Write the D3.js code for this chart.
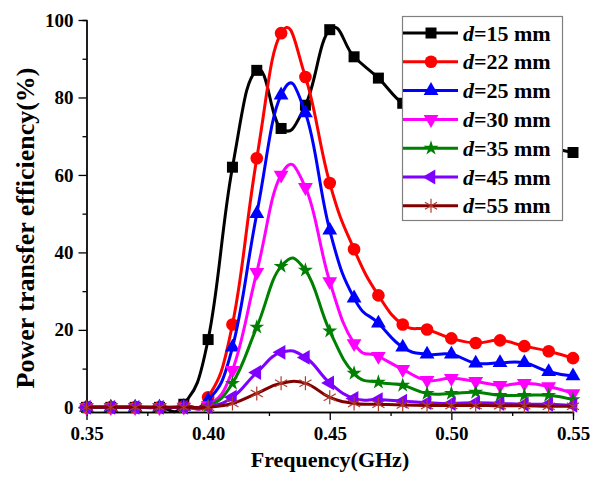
<!DOCTYPE html>
<html>
<head>
<meta charset="utf-8">
<script src="https://cdn.jsdelivr.net/npm/d3@7"></script>
<style>
    body { margin: 0; background: #fff; }
    svg text { font-family: "Liberation Serif", "Times New Roman", serif; font-weight: bold; }
</style>
</head>
<body>
<svg id="chart" width="603" height="481"></svg>
<script>
// frequency points (GHz)
var freq = [0.35, 0.36, 0.37, 0.38, 0.39, 0.40, 0.41, 0.42, 0.43, 0.44, 0.45,
            0.46, 0.47, 0.48, 0.49, 0.50, 0.51, 0.52, 0.53, 0.54, 0.55];

// power transfer efficiency (%) per distance
var d15 = [0, 0, 0, 0, 0.8, 17.5, 62, 87, 72, 78, 97.5, 90.5, 85, 78.5, 76, 74, 72, 70, 68, 67, 65.8];
var d22 = [0, 0, 0, 0, 0.3, 2.6, 21.4, 64.3, 96.6, 85.3, 57.9, 40.8, 28.9, 21.4, 20.1, 17.8, 16.6, 17.3, 15.8, 14.5, 12.7];
var d25 = [0, 0, 0, 0, 0.2, 1.8, 15.5, 50, 80.6, 76, 45.7, 28.2, 21.7, 15.5, 13.7, 13.7, 11.4, 11.5, 11.5, 9.2, 8.1];
var d30 = [0, 0, 0, 0, 0.1, 0.5, 9.6, 34.9, 60, 56.8, 32.5, 16.5, 13.2, 9.8, 7, 7.5, 6.7, 5.7, 6.2, 5.4, 3.6];
var d35 = [0, 0, 0, 0, 0, 0.3, 6.2, 20.7, 36.4, 35.4, 19.7, 8.8, 6.5, 5.7, 3.6, 3.6, 3.9, 3.1, 3.1, 3.1, 2];
var d45 = [0, 0, 0, 0, 0, 0.2, 2.6, 9, 14.2, 12.9, 6.3, 2.3, 2, 1.6, 1.2, 1, 1.2, 1, 0.8, 0.8, 0.5];
var d55 = [0, 0, 0, 0, 0, 0, 1, 3.6, 6.2, 6.2, 2.6, 1, 0.8, 0.6, 0.5, 0.5, 0.5, 0.4, 0.4, 0.3, 0.3];

var seriesNames = ["15", "22", "25", "30", "35", "45", "55"];
var seriesValues = [d15, d22, d25, d30, d35, d45, d55];

var xTicks = [0.35, 0.40, 0.45, 0.50, 0.55];
var xMinor = [0.375, 0.425, 0.475, 0.525];
var yTicks = [0, 20, 40, 60, 80, 100];
var yMinor = [10, 30, 50, 70, 90];

var colors = ["#000000", "#ff0000", "#0000ff", "#ff00ff", "#008000", "#8000ff", "#800000"];

var svg = d3.select("#chart");

var x = d3.scaleLinear().domain([0.35, 0.55]).range([86.5, 573]);
var y = d3.scaleLinear().domain([-1.2, 100]).range([412, 20]);

// axes
function styleAxis(g) {
    g.selectAll("path.domain").attr("stroke", "#000").attr("stroke-width", 1.3);
    g.selectAll(".tick line").attr("stroke", "#000").attr("stroke-width", 1.3);
    g.selectAll(".tick text").attr("font-size", 19).attr("fill", "#000")
        .style("font-family", "'Liberation Serif', 'Times New Roman', serif").style("font-weight", "bold");
}

svg.append("g")
    .attr("transform", "translate(0,412)")
    .call(d3.axisBottom(x).tickValues(xMinor).tickSize(4).tickFormat(""))
    .call(styleAxis);
svg.append("g")
    .attr("transform", "translate(0,412)")
    .call(d3.axisBottom(x).tickValues(xTicks).tickSize(8).tickSizeOuter(0).tickPadding(7).tickFormat(d3.format(".2f")))
    .call(styleAxis);

svg.append("g")
    .attr("transform", "translate(86.5,0)")
    .call(d3.axisLeft(y).tickValues(yMinor).tickSize(4).tickFormat(""))
    .call(styleAxis);
svg.append("g")
    .attr("transform", "translate(86.5,0)")
    .call(d3.axisLeft(y).tickValues(yTicks).tickSize(8).tickSizeOuter(0).tickPadding(5))
    .call(styleAxis);

// axis titles
svg.append("text")
    .attr("x", 330).attr("y", 467)
    .attr("text-anchor", "middle")
    .attr("font-size", 22)
    .text("Frequency(GHz)");

svg.append("text")
    .attr("transform", "translate(34,228) rotate(-90)")
    .attr("text-anchor", "middle")
    .attr("font-size", 26)
    .text("Power transfer efficiency(%)");

// marker shapes
function markerPath(i) {
    switch (i) {
        case 0: return d3.symbol().type(d3.symbolSquare).size(121)();
        case 1: return d3.symbol().type(d3.symbolCircle).size(125)();
        case 2: return d3.symbol().type(d3.symbolTriangle).size(95)();
        case 3: return d3.symbol().type(d3.symbolTriangle).size(95)();
        case 4: return d3.symbol().type(d3.symbolStar).size(70)();
        case 5: return d3.symbol().type(d3.symbolTriangle).size(95)();
        default:
            var r = 7, p = "";
            for (var k = 0; k < 3; k++) {
                var a = Math.PI / 2 + k * Math.PI / 3;
                p += "M" + (r * Math.cos(a)) + "," + (r * Math.sin(a)) + "L" + (-r * Math.cos(a)) + "," + (-r * Math.sin(a));
            }
            return p;
    }
}
var markerRotate = [0, 0, 0, 180, 0, -90, 0];

function drawMarker(sel, i) {
    var isStar = i === 6;
    sel.attr("d", markerPath(i))
        .attr("fill", isStar ? "none" : colors[i])
        .attr("stroke", isStar ? "#b03a2e" : "none")
        .attr("stroke-width", isStar ? 1.2 : 0);
}

var line = d3.line()
    .x(function (d, j) { return x(freq[j]); })
    .y(function (d) { return y(d); })
    .curve(d3.curveCardinal.tension(-0.35));

seriesValues.forEach(function (vals, i) {
    var g = svg.append("g").attr("class", "series");
    g.append("path")
        .attr("d", line(vals))
        .attr("fill", "none")
        .attr("stroke", colors[i])
        .attr("stroke-width", 3);
    g.selectAll("path.marker")
        .data(vals)
        .enter()
        .append("path")
        .attr("class", "marker")
        .attr("transform", function (d, j) {
            return "translate(" + x(freq[j]) + "," + y(d) + ") rotate(" + markerRotate[i] + ")";
        })
        .each(function () { drawMarker(d3.select(this), i); });
});

// legend
var legend = svg.append("g").attr("class", "legend");
legend.append("rect")
    .attr("x", 402.5).attr("y", 16.5)
    .attr("width", 160).attr("height", 204)
    .attr("fill", "#fff")
    .attr("stroke", "#808080")
    .attr("stroke-width", 1.2);

seriesNames.forEach(function (name, i) {
    var ly = 33 + i * 28.8;
    legend.append("line")
        .attr("x1", 403).attr("x2", 458)
        .attr("y1", ly).attr("y2", ly)
        .attr("stroke", colors[i]).attr("stroke-width", 3);
    legend.append("path")
        .attr("transform", "translate(431," + ly + ") rotate(" + markerRotate[i] + ")")
        .call(function (sel) { drawMarker(sel, i); });
    var t = legend.append("text")
        .attr("x", 463).attr("y", ly + 7.5)
        .attr("font-size", 22);
    t.append("tspan").attr("font-style", "italic").text("d");
    t.append("tspan").text("=" + name + " mm");
});
</script>
</body>
</html>
